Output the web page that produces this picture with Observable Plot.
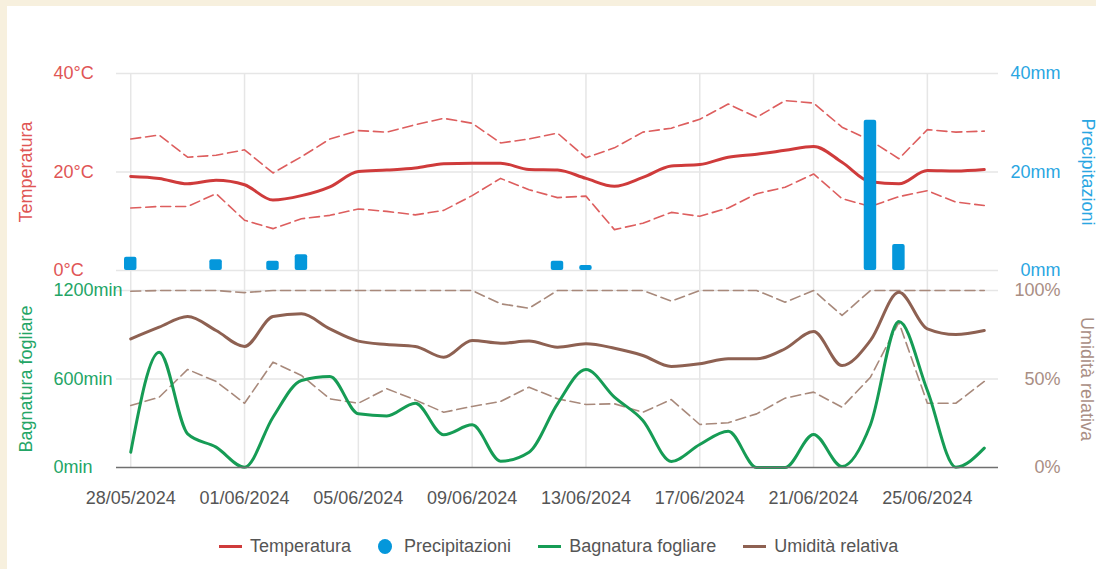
<!DOCTYPE html>
<html><head><meta charset="utf-8">
<script src="https://cdn.jsdelivr.net/npm/d3@7"></script>
<script src="https://cdn.jsdelivr.net/npm/@observablehq/plot@0.6"></script>
<style>
html,body{margin:0;padding:0;}
body{width:1096px;height:569px;background:#f7f0de;position:relative;overflow:hidden;font-family:"Liberation Sans",Arial,sans-serif;}
#card{position:absolute;left:7px;top:6px;right:0;bottom:0;background:#fff;}
.layer{position:absolute;left:0;top:0;}
#legend{position:absolute;top:536px;left:219px;height:20px;display:flex;align-items:center;font-size:18px;color:#555;white-space:nowrap;}
#legend .item{display:flex;align-items:center;margin-right:27px;}
#legend .ln{width:23px;height:3px;margin-right:8px;}
#legend .dot{width:14px;height:15px;border-radius:50%;margin-right:12px;}
</style></head>
<body>
<div id="card"></div>
<div id="layers"></div>
<div id="legend"></div>
<script>
const dates = ["28/05/2024","29/05/2024","30/05/2024","31/05/2024","01/06/2024","02/06/2024","03/06/2024","04/06/2024","05/06/2024","06/06/2024","07/06/2024","08/06/2024","09/06/2024","10/06/2024","11/06/2024","12/06/2024","13/06/2024","14/06/2024","15/06/2024","16/06/2024","17/06/2024","18/06/2024","19/06/2024","20/06/2024","21/06/2024","22/06/2024","23/06/2024","24/06/2024","25/06/2024","26/06/2024","27/06/2024"];
const tempMean = [19.1,18.7,17.6,18.3,17.4,14.3,15.2,17.0,20.1,20.4,20.8,21.7,21.8,21.8,20.5,20.4,18.7,17.1,18.9,21.2,21.5,23.0,23.6,24.4,25.2,22.0,18.0,17.6,20.3,20.2,20.5];
const tempMax = [26.7,27.5,23.0,23.4,24.5,19.8,23.1,26.7,28.4,28.1,29.6,30.9,29.9,25.9,26.7,27.9,22.9,24.9,28.1,28.9,30.7,33.8,31.1,34.5,34.0,29.1,26.4,22.7,28.6,28.1,28.3];
const tempMin = [12.7,13.0,13.0,15.6,10.2,8.5,10.5,11.2,12.5,12.0,11.3,12.2,15.2,18.7,16.4,14.8,15.1,8.3,9.6,11.8,11.0,12.7,15.6,16.9,19.6,14.6,13.0,15.0,16.2,13.9,13.2];
const rain = [2.7,0,0,2.2,0,1.9,3.2,0,0,0,0,0,0,0,0,1.9,1.0,0,0,0,0,0,0,0,0,0,30.5,5.3,0,0,0];
const wetness = [104,782,228,138,2,341,590,617,364,350,436,222,289,43,104,432,664,477,319,41,156,246,0,0,224,7,290,990,522,2,131];
const humMean = [72.7,79.3,85.3,77.4,68.4,85.3,86.8,78.3,71.4,69.5,68.4,62.3,71.8,70.2,71.4,68.0,69.9,67.4,63.3,57.1,58.6,61.4,61.4,67.1,76.8,57.6,71.8,99.0,78.3,75.1,77.4];
const humMax = [99.6,100,100,100,98.8,100,100,100,100,100,100,100,100,92.5,90.0,100,100,100,100,94.0,100,100,100,93.4,100,85.9,100,100,100,100,100];
const humMin = [35.0,39.7,55.4,48.6,36.3,59.5,52.0,38.8,36.3,44.5,38.2,31.2,34.5,37.3,45.4,38.8,35.6,36.0,31.2,38.4,24.3,25.3,30.3,39.2,42.6,34.1,51.0,82.0,36.3,36.3,48.6];
const tempTicks = [0,20,40];
const rainTicks = [0,20,40];
const wetTicks = [0,600,1200];
const humTicks = [0,50,100];
const xTicks = dates.filter((d,i)=>i%4===0);
const axisTitles = ["Temperatura","Precipitazioni","Bagnatura fogliare","Umidità relativa"];
const legendLabels = ["Temperatura","Precipitazioni","Bagnatura fogliare","Umidità relativa"];

const RED="#cf3b3b", RED2="#dd5e5e", BLUE="#0497db", GREEN="#169c55", BROWN="#8e6152", BROWN2="#a8897b";
const RED_T="#df5555", BLUE_T="#2aa6e2", GREEN_T="#23a566", BROWN_T="#a98e84", GRID="#e6e6e6";
const legendColors=[RED,BLUE,GREEN,BROWN];

const rows = dates.map((d,i)=>({date:d, tmean:tempMean[i], tmax:tempMax[i], tmin:tempMin[i], rain:rain[i],
  wet:wetness[i], hmean:humMean[i], hmax:humMax[i], hmin:humMin[i]}));

const common = {width:1096, height:520, marginLeft:116, marginRight:98, marginTop:73, marginBottom:53,
  style:{background:"transparent", fontFamily:"Liberation Sans, Arial, sans-serif", fontSize:"18px", overflow:"visible"}};
const xScale = {type:"band", domain:dates, padding:0, round:false, axis:null, label:null};
const FS = 18;

const topPlot = Plot.plot({...common, x:xScale, y:{domain:[0,40], range:[270,73], axis:null, label:null},
  marks:[
    Plot.ruleY(tempTicks, {y:d=>d, stroke:GRID, strokeWidth:1.5}),
    Plot.ruleX(xTicks, {x:d=>d, stroke:GRID, strokeWidth:1.5}),
    Plot.line(rows, {x:"date", y:"tmax", stroke:RED2, strokeWidth:1.6, strokeDasharray:"10,5"}),
    Plot.line(rows, {x:"date", y:"tmin", stroke:RED2, strokeWidth:1.6, strokeDasharray:"10,5"}),
    Plot.line(rows, {x:"date", y:"tmean", stroke:RED, strokeWidth:3, curve:"monotone-x"}),
    Plot.barY(rows.filter(d=>d.rain>0), {x:"date", y:"rain", fill:BLUE, insetLeft:8, insetRight:8, rx:2}),
    Plot.axisY(tempTicks, {anchor:"left", label:null, tickSize:0, tickPadding:63, textAnchor:"start", tickFormat:d=>d+"°C", color:RED_T, fontSize:FS}),
    Plot.axisY(rainTicks, {anchor:"right", label:null, tickSize:0, tickPadding:62, textAnchor:"end", tickFormat:d=>d+"mm", color:BLUE_T, fontSize:FS}),
    Plot.text([axisTitles[0]], {y:[20], text:d=>d, frameAnchor:"left", textAnchor:"middle", dx:-90, rotate:-90, fill:RED_T, fontSize:FS}),
    Plot.text([axisTitles[1]], {y:[20], text:d=>d, frameAnchor:"right", textAnchor:"middle", dx:89, rotate:90, fill:BLUE_T, fontSize:FS})
  ]});

const humPlot = Plot.plot({...common, x:xScale, y:{domain:[0,100], range:[467,290], axis:null, label:null},
  marks:[
    Plot.ruleY([50,100], {y:d=>d, stroke:GRID, strokeWidth:1.5}),
    Plot.line(rows, {x:"date", y:"hmax", stroke:BROWN2, strokeWidth:1.6, strokeDasharray:"10,5"}),
    Plot.line(rows, {x:"date", y:"hmin", stroke:BROWN2, strokeWidth:1.6, strokeDasharray:"10,5"}),
    Plot.line(rows, {x:"date", y:"hmean", stroke:BROWN, strokeWidth:3, curve:"monotone-x"}),
    Plot.axisY(humTicks, {anchor:"right", label:null, tickSize:0, tickPadding:62, textAnchor:"end", tickFormat:d=>d+"%", color:BROWN_T, fontSize:FS}),
    Plot.text([axisTitles[3]], {y:[50], text:d=>d, frameAnchor:"right", textAnchor:"middle", dx:88, rotate:90, fill:BROWN_T, fontSize:FS})
  ]});

const wetPlot = Plot.plot({...common, x:xScale, y:{domain:[0,1200], range:[467,290], axis:null, label:null},
  marks:[
    Plot.line(rows, {x:"date", y:"wet", stroke:GREEN, strokeWidth:3, curve:"monotone-x"}),
    Plot.ruleY([0], {stroke:"#707070", strokeWidth:1.5}),
    Plot.axisY(wetTicks, {anchor:"left", label:null, tickSize:0, tickPadding:63, textAnchor:"start", tickFormat:d=>d+"min", color:GREEN_T, fontSize:FS}),
    Plot.axisX(xTicks, {anchor:"bottom", label:null, tickSize:0, tickPadding:24, color:"#555", fontSize:FS}),
    Plot.text([axisTitles[2]], {y:[600], text:d=>d, frameAnchor:"left", textAnchor:"middle", dx:-90, rotate:-90, fill:GREEN_T, fontSize:FS})
  ]});

const layers = document.getElementById("layers");
for (const p of [topPlot, humPlot, wetPlot]) { p.classList.add("layer"); layers.appendChild(p); }

const legend = document.getElementById("legend");
legendLabels.forEach((lab,i)=>{
  const it = document.createElement("div"); it.className="item";
  const sw = document.createElement("span"); sw.className = i===1 ? "dot" : "ln"; sw.style.background = legendColors[i];
  const tx = document.createElement("span"); tx.textContent = lab;
  it.appendChild(sw); it.appendChild(tx); legend.appendChild(it);
});
</script>
</body></html>
